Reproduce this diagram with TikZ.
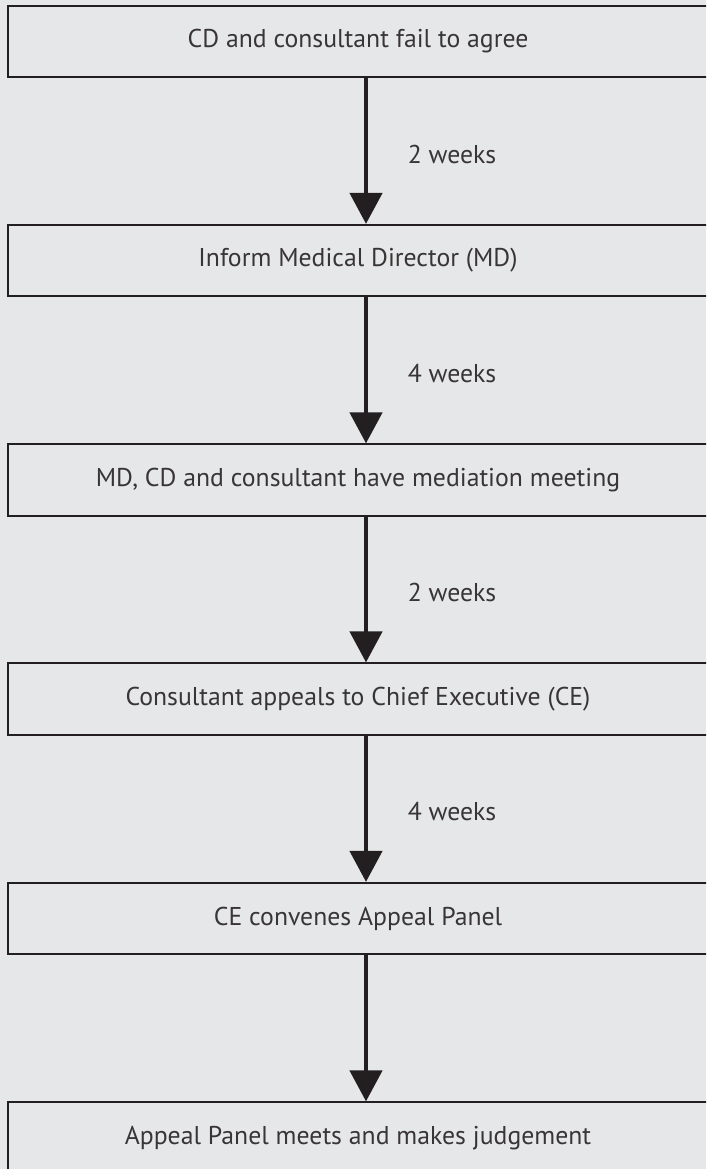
\documentclass[tikz,border=0pt]{standalone}
\usepackage{fontspec}
\setmainfont{PT Sans}
\usetikzlibrary{positioning, arrows.meta}
\definecolor{ink}{HTML}{231F20}
\definecolor{paper}{HTML}{E6E7E8}
\tikzset{Flow/.style = {
%thick downward connector with a filled head
ink, line width = 0.1125cm,
-{Triangle[width = 0.8cm, length = 0.775cm]}
}}

\begin{document}
\begin{tikzpicture}[x = 0.025cm, y = -0.025cm,
				stage/.style = {rectangle, draw = ink, line width = 0.05cm, text = ink!90, minimum width = 17.5cm, minimum height = 1.78cm, font = \fontsize{18.3}{22}\selectfont},
				delay/.style = {text = ink!90, font = \fontsize{18.3}{22}\selectfont, yshift = -0.08cm},
			]
			\useasboundingbox (0,0) rectangle (706,1169);
			\fill[paper] (0,0) rectangle (706,1169);
			\clip (0,0) rectangle (706,1169);

			\node[stage](S1) at (358,41.5){CD and consultant fail to agree};
			\node[stage](S2) at (358,260.5){Inform Medical Director (MD)};
			\node[stage](S3) at (358,480){MD, CD and consultant have mediation meeting};
			\node[stage](S4) at (358,699){Consultant appeals to Chief Executive (CE)};
			\node[stage](S5) at (358,918.5){CE convenes Appeal Panel};
			\node[stage](S6) at (358,1138){Appeal Panel meets and makes judgement};

			\draw[Flow]([xshift = 0.2cm]S1.south)--node[delay, midway, right = 0.87cm] {2 weeks}([xshift = 0.2cm]S2.north);
			\draw[Flow]([xshift = 0.2cm]S2.south)--node[delay, midway, right = 0.87cm] {4 weeks}([xshift = 0.2cm]S3.north);
			\draw[Flow]([xshift = 0.2cm]S3.south)--node[delay, midway, right = 0.87cm] {2 weeks}([xshift = 0.2cm]S4.north);
			\draw[Flow]([xshift = 0.2cm]S4.south)--node[delay, midway, right = 0.87cm] {4 weeks}([xshift = 0.2cm]S5.north);
			\draw[Flow]([xshift = 0.2cm]S5.south)--([xshift = 0.2cm]S6.north);

		\end{tikzpicture}
\end{document}
